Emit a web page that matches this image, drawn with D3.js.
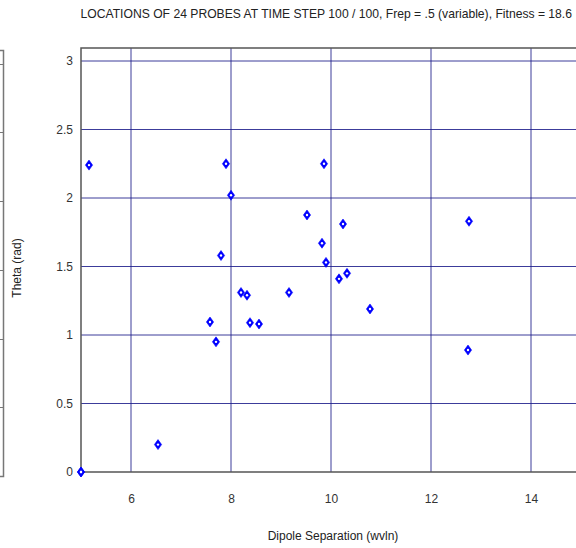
<!DOCTYPE html>
<html><head><meta charset="utf-8">
<script src="https://cdn.jsdelivr.net/npm/d3@7/dist/d3.min.js"></script>
<style>body{margin:0;background:#fff;}svg{display:block;font-family:Arial,"Liberation Sans",sans-serif;}</style>
</head><body>
<svg id="c" width="576" height="548"></svg>
<script>
const titleText = "LOCATIONS OF 24 PROBES AT TIME STEP 100 / 100, Frep = .5 (variable), Fitness = 18.6";
const xLabel = "Dipole Separation (wvln)";
const yLabel = "Theta (rad)";
const xTicks = [6, 8, 10, 12, 14];
const yTicks = [0, 0.5, 1, 1.5, 2, 2.5, 3];
const sepValues = [5.0, 5.0, 5.16, 6.54, 7.9, 8.0, 7.8, 7.58, 7.7, 8.2, 8.32, 8.38, 8.56, 9.16, 9.52, 9.82, 9.86, 9.9, 10.24, 10.16, 10.32, 10.78, 12.76, 12.74];
const thetaValues = [0.0, 0.0, 2.24, 0.2, 2.25, 2.02, 1.58, 1.095, 0.95, 1.31, 1.29, 1.09, 1.08, 1.31, 1.876, 1.67, 2.25, 1.53, 1.81, 1.41, 1.45, 1.19, 1.83, 0.89];

const svg = d3.select("#c");
const x = d3.scaleLinear().domain([5, 14.9]).range([81, 576]);
const y = d3.scaleLinear().domain([0, 3]).range([472, 61]);
const yTop = 48;

// partial neighbouring frame at far left
const lf = svg.append("g");
lf.append("path").attr("d", "M0,50.5H3.5V476.5H0").attr("fill","none").attr("stroke","#777").attr("stroke-width",1.5);
[64,132,201,270,339,407].forEach(v=>lf.append("line").attr("x1",0).attr("x2",3).attr("y1",v+0.5).attr("y2",v+0.5).attr("stroke","#777"));

// grid
const grid = svg.append("g").attr("stroke","#1a1a8a").attr("stroke-width",1).attr("stroke-opacity",0.85);
xTicks.forEach(t=>grid.append("line").attr("x1",x(t)).attr("x2",x(t)).attr("y1",yTop).attr("y2",y(0)));
yTicks.filter(t=>t>0).forEach(t=>grid.append("line").attr("x1",x(5)).attr("x2",576).attr("y1",y(t)).attr("y2",y(t)));

// frame
svg.append("path").attr("d",`M576,${yTop}H${x(5)}V${y(0)}H576`).attr("fill","none").attr("stroke","#555").attr("stroke-width",1.5);

// axes labels via d3 axes
const xa = svg.append("g").attr("transform",`translate(0,${y(0)})`)
  .call(d3.axisBottom(x).tickValues(xTicks).tickFormat(d3.format("d")).tickSize(0).tickPadding(22));
const ya = svg.append("g").attr("transform",`translate(${x(5)},0)`)
  .call(d3.axisLeft(y).tickValues(yTicks).tickFormat(d=>String(d)).tickSize(0).tickPadding(8));
[xa,ya].forEach(a=>{a.select(".domain").remove();a.selectAll("text").attr("fill","#333").attr("font-size",12).attr("font-family","Arial, 'Liberation Sans', sans-serif");});

// points
const pts = sepValues.map((s,i)=>[s,thetaValues[i]]);
const pg = svg.append("g");
pg.selectAll("path").data(pts).join("path")
  .attr("transform",d=>`translate(${x(d[0])},${y(d[1])})`)
  .attr("d","M0,-5L3.6,0L0,5L-3.6,0Z")
  .attr("fill","#0000ff").attr("stroke","#0000ff").attr("stroke-width",0.6);
pg.selectAll("circle").data(pts).join("circle")
  .attr("cx",d=>x(d[0])).attr("cy",d=>y(d[1])).attr("r",1.2).attr("fill","#fff");

// titles
svg.append("text").attr("x",572).attr("y",18).attr("text-anchor","end").attr("font-size",12.15).attr("fill","#222").text(titleText);
svg.append("text").attr("x",333).attr("y",540).attr("text-anchor","middle").attr("font-size",12).attr("fill","#222").text(xLabel);
svg.append("text").attr("transform","translate(21,268) rotate(-90)").attr("text-anchor","middle").attr("font-size",12).attr("fill","#222").text(yLabel);
</script>
</body></html>
